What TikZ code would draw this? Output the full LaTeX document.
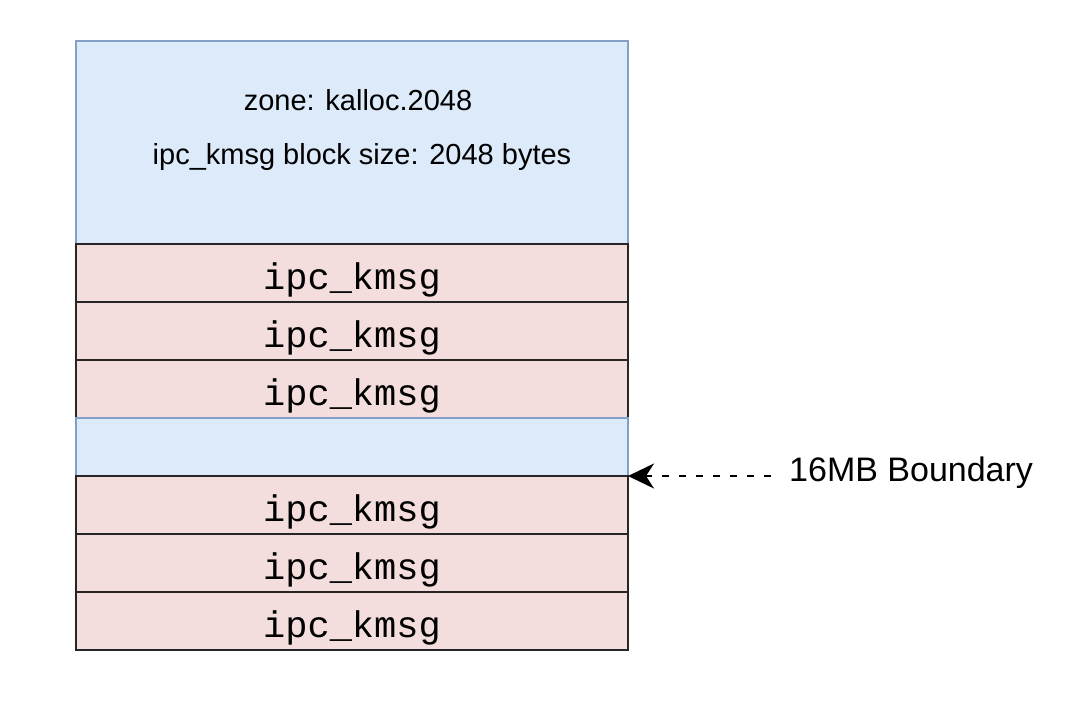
\documentclass[tikz,border=0pt]{standalone}
\usepackage{fontspec}
\setmainfont{Liberation Sans}
\newfontfamily\monofont{Liberation Mono}
\usetikzlibrary{positioning,arrows.meta}

\definecolor{zonefill}{RGB}{221,234,250}
\definecolor{zoneline}{RGB}{130,160,200}
\definecolor{msgfill}{RGB}{243,221,221}

\tikzset{
  zonebox/.style={draw=zoneline, fill=zonefill, line width=2pt, minimum width=552pt, minimum height=203pt, inner sep=0pt, outer sep=0pt},
  gapbox/.style={draw=zoneline, fill=zonefill, line width=2pt, minimum width=552pt, minimum height=58pt, inner sep=0pt, outer sep=0pt},
  msgbox/.style={draw=black!85, fill=msgfill, line width=2pt, minimum width=552pt, minimum height=58pt, inner sep=0pt, outer sep=0pt,
    text height=33pt, text depth=0pt, font=\monofont\fontsize{37}{40}\selectfont},
  zonelabel/.style={font=\fontsize{29}{34}\selectfont, inner sep=0pt},
  boundaryarrow/.style={line width=2.5pt, dash pattern=on 7pt off 10pt, -{Stealth[length=26pt, width=25pt, inset=8pt]}}
}

\begin{document}
\begin{tikzpicture}[x=1pt, y=-1pt]
\useasboundingbox (0,0) rectangle (1090,702);

% zone header
\node[zonebox] (zone) at (352,142.5) {};
\node[zonelabel] (zonename) at (358,100) {zone: kalloc.2048};
\node[zonelabel] (blocksize) at (362,157) {ipc\_kmsg block size: 2048 bytes};

% blocks
\node[msgbox, below=0pt of zone] (msg1) {ipc\_kmsg};
\node[msgbox, below=0pt of msg1] (msg2) {ipc\_kmsg};
\node[msgbox, below=0pt of msg2] (msg3) {ipc\_kmsg};
\node[gapbox, below=0pt of msg3] (gap) {};
\node[msgbox, below=0pt of gap] (msg4) {ipc\_kmsg};
\node[msgbox, below=0pt of msg4] (msg5) {ipc\_kmsg};
\node[msgbox, below=0pt of msg5] (msg6) {ipc\_kmsg};

% boundary marker
\node[font=\fontsize{34}{40}\selectfont, anchor=west, inner sep=0pt] (boundary) at (789,473) {16MB Boundary};
\draw[boundaryarrow, shorten <=18pt] (boundary.west |- msg4.north east) -- (msg4.north east);

\end{tikzpicture}
\end{document}
